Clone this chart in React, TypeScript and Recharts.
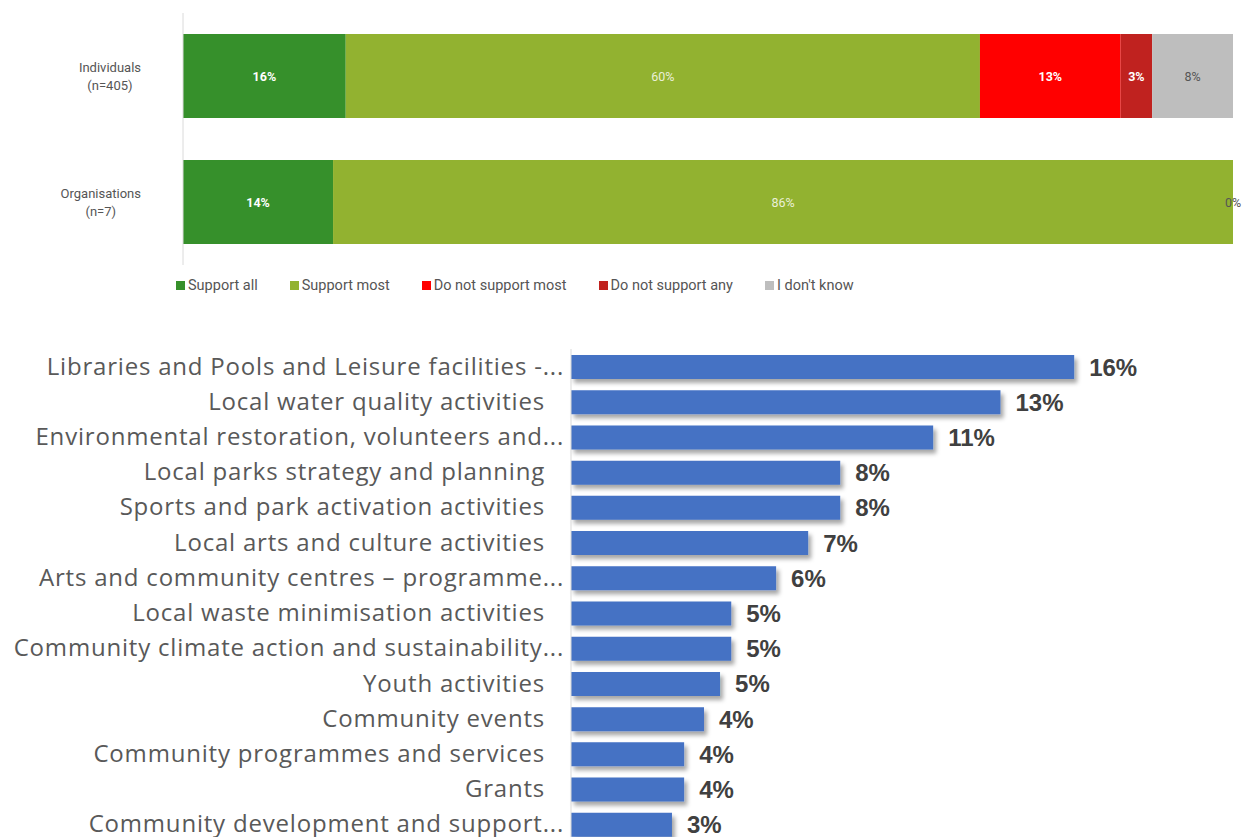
import React from "react";
import { BarChart, Bar, XAxis, YAxis, LabelList, Legend } from "recharts";

// ---------- Top chart data ----------
const groups = ["Individuals (n=405)", "Organisations (n=7)"];
const seriesNames = ["Support all", "Support most", "Do not support most", "Do not support any", "I don't know"];
const supportAll = [15.5, 14.29];
const supportMost = [60.4, 85.71];
const notSupportMost = [13.4, 0];
const notSupportAny = [3.0, 0];
const dontKnow = [7.7, 0];
const seriesColors = ["#36902B", "#92B230", "#FF0000", "#C0221F", "#BEBEBE"];
const labelColors = ["#ffffff", "#EAF0D8", "#ffffff", "#ffffff", "#555555"];
const labelWeights = [700, 400, 700, 700, 400];

// ---------- Bottom chart data ----------
const activities = [
  "Libraries and Pools and Leisure facilities -...",
  "Local water quality activities",
  "Environmental restoration, volunteers and...",
  "Local parks strategy and planning",
  "Sports and park activation activities",
  "Local arts and culture activities",
  "Arts and community centres – programme...",
  "Local waste minimisation activities",
  "Community climate action and sustainability...",
  "Youth activities",
  "Community events",
  "Community programmes and services",
  "Grants",
  "Community development and support...",
];
const activityShares = [15.7, 13.4, 11.3, 8.4, 8.4, 7.4, 6.4, 5.0, 5.0, 4.65, 4.15, 3.53, 3.53, 3.15];

const keys = ["s0", "s1", "s2", "s3", "s4"];
const seriesValues = [supportAll, supportMost, notSupportMost, notSupportAny, dontKnow];
const topData = groups.map((g, i) => {
  const row: any = { name: g };
  keys.forEach((k, j) => (row[k] = seriesValues[j][i]));
  return row;
});
const bottomData = activities.map((a, i) => ({ name: a, value: activityShares[i] }));

const TOP_FONT = "Roboto, 'Noto Sans', sans-serif";
const BOTTOM_FONT = "'Open Sans', 'Noto Sans', sans-serif";

let canvasCtx: CanvasRenderingContext2D | null = null;
function measure(text: string, font: string): number {
  if (!canvasCtx) {
    const c = document.createElement("canvas");
    canvasCtx = c.getContext("2d");
  }
  if (!canvasCtx) return text.length * 6.5;
  canvasCtx.font = font;
  return canvasCtx.measureText(text).width;
}

const TopTick = (props: any) => {
  const { x, y, payload } = props;
  const v: string = payload.value;
  const idx = v.indexOf(" (");
  const lines = idx >= 0 ? [v.slice(0, idx), v.slice(idx + 1)] : [v];
  const widths = lines.map((l) => measure(l, "13px Roboto"));
  const maxW = Math.max(...widths);
  const cx = x - 42 - maxW / 2;
  const lh = 18;
  const startDy = -((lines.length - 1) * lh) / 2 + 5;
  return (
    <text x={cx} y={y} textAnchor="middle" fill="#555555" fontSize={13} fontFamily={TOP_FONT}>
      {lines.map((l, i) => (
        <tspan key={i} x={cx} dy={i === 0 ? startDy : lh}>
          {l}
        </tspan>
      ))}
    </text>
  );
};

const BottomTick = (props: any) => {
  const { x, y, payload } = props;
  const v: string = payload.value;
  const trunc = v.endsWith("...");
  const ex = x - (trunc ? 7 : 26);
  return (
    <text
      x={ex}
      y={y}
      dy={8}
      textAnchor="end"
      fill="#595959"
      fontSize={24}
      letterSpacing={0.8}
      fontFamily={BOTTOM_FONT}
    >
      {v}
    </text>
  );
};

const makeSegmentLabel = (j: number) => (props: any) => {
  const { x, y, width, height, value } = props;
  const cx = Number(x) + Number(width) / 2;
  const cy = Number(y) + Number(height) / 2;
  // zero-valued white labels are invisible on white; only the last series shows its 0%
  if (Number(value) === 0 && j !== keys.length - 1) return null;
  return (
    <text
      x={cx}
      y={cy}
      dy={4.5}
      textAnchor="middle"
      fill={labelColors[j]}
      fontSize={12.5}
      fontWeight={labelWeights[j]}
      fontFamily={TOP_FONT}
    >
      {Math.round(Number(value))}%
    </text>
  );
};

const LegendContent = () => (
  <div
    style={{
      display: "flex",
      gap: 32,
      height: 20,
      alignItems: "center",
      fontFamily: TOP_FONT,
      fontSize: 14.5,
      color: "#555555",
      whiteSpace: "nowrap",
    }}
  >
    {seriesNames.map((n, i) => (
      <div key={n} style={{ display: "flex", alignItems: "center" }}>
        <span style={{ display: "inline-block", width: 9, height: 9, background: seriesColors[i], marginRight: 3 }} />
        <span>{n}</span>
      </div>
    ))}
  </div>
);

export default function App() {
  return (
    <div style={{ position: "absolute", left: 0, top: 0, width: 1251, height: 837, overflow: "hidden", background: "#fff" }}>
      <svg width={0} height={0} style={{ position: "absolute" }}>
        <defs>
          <filter id="barShadow" x="-5%" y="-30%" width="115%" height="180%">
            <feDropShadow dx="3" dy="4" stdDeviation="2.2" floodColor="#000" floodOpacity="0.35" />
          </filter>
        </defs>
      </svg>
      <div style={{ position: "absolute", left: 0, top: 0 }}>
        <BarChart
          width={1251}
          height={300}
          data={topData}
          layout="vertical"
          margin={{ top: 13, right: 18, left: 0, bottom: 15 }}
          barSize={84}
        >
          <XAxis type="number" domain={[0, 100]} hide />
          <YAxis
            type="category"
            dataKey="name"
            width={183}
            tickSize={0}
            tickMargin={0}
            tickLine={false}
            axisLine={{ stroke: "#DADADA", strokeWidth: 1 }}
            tick={<TopTick />}
          />
          {keys.map((k, j) => (
            <Bar
              key={k}
              dataKey={k}
              name={seriesNames[j]}
              stackId="a"
              fill={seriesColors[j]}
              minPointSize={j === keys.length - 1 ? 0.01 : 0}
              isAnimationActive={false}
            >
              <LabelList dataKey={k} content={makeSegmentLabel(j)} />
            </Bar>
          ))}
          <Legend
            content={<LegendContent />}
            wrapperStyle={{ position: "absolute", left: 176, top: 275, width: "auto", height: 20 }}
          />
        </BarChart>
      </div>
      <div style={{ position: "absolute", left: 0, top: 300 }}>
        <BarChart
          width={1251}
          height={542}
          data={bottomData}
          layout="vertical"
          margin={{ top: 49, right: 39, left: 0, bottom: 0 }}
        >
          <XAxis type="number" domain={[0, 20]} hide />
          <YAxis
            type="category"
            dataKey="name"
            width={571}
            tickSize={0}
            tickMargin={0}
            tickLine={false}
            axisLine={{ stroke: "#D9D9D9", strokeWidth: 1 }}
            tick={<BottomTick />}
            interval={0}
          />
          <Bar dataKey="value" fill="#4472C4" barSize={24} isAnimationActive={false} style={{ filter: "url(#barShadow)" }}>
            <LabelList
              dataKey="value"
              position="right"
              offset={15}
              formatter={(v: any) => `${Math.round(Number(v))}%`}
              fill="#404040"
              fontSize={24}
              fontWeight={700}
              fontFamily="'Liberation Sans', Arial, sans-serif"
            />
          </Bar>
        </BarChart>
      </div>
    </div>
  );
}
